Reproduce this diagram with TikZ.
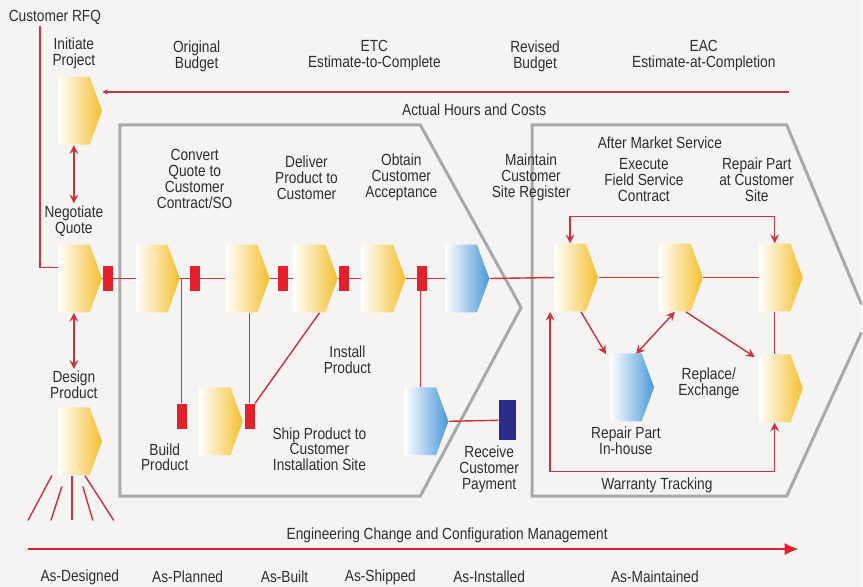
\documentclass[tikz,border=0pt]{standalone}
\usepackage{fontspec}
\setmainfont{Liberation Sans}[FakeStretch=0.85]
\usetikzlibrary{calc, arrows.meta, positioning, shapes.symbols}

\definecolor{bgcol}{HTML}{F6F4F2}
\definecolor{flowred}{HTML}{D0303C}
\definecolor{blockred}{HTML}{E3202B}
\definecolor{stageyellow}{HTML}{F4BF2E}
\definecolor{stageblue}{HTML}{4A98DA}
\definecolor{framegray}{HTML}{A9A9A9}
\definecolor{paynavy}{HTML}{2A2E88}
\definecolor{txtgray}{HTML}{2E2E2E}

\pgfdeclarelayer{bg}
\pgfdeclarelayer{lines}
\pgfsetlayers{bg,lines,main}

\begin{document}
\begin{tikzpicture}[x=0.02cm, y=-0.02cm, font=\fontsize{9.2}{9.1}\selectfont,
    every node/.style={text=txtgray}, >={Stealth[length=5pt,width=5pt,inset=1.8pt]}]

\tikzstyle{stage}=[shape=signal, signal to=east, signal pointer angle=140, minimum width=0.88cm, minimum height=1.36cm, inner sep=0pt, left color=white, right color=stageyellow]
\tikzstyle{blue stage}=[stage, left color=white, right color=stageblue]
\tikzstyle{gate}=[fill=blockred, minimum width=0.2cm, minimum height=0.5cm, inner sep=0pt]
\tikzstyle{flow}=[draw=flowred, line width=0.8pt]
\tikzstyle{txt}=[align=center, inner sep=1pt]
\tikzstyle{frame}=[draw=framegray, line width=1.7pt, line join=miter]

% background and phase frames
\begin{pgfonlayer}{bg}
\fill[bgcol] (0,0) rectangle (863,588);
\draw[frame] (120,125) -- (421,125) -- (522,308) -- (421,497) -- (120,497) -- cycle;
\draw[frame] (863,305) -- (788,125) -- (533,125) -- (533,497) -- (788,497) -- (863,333);
\end{pgfonlayer}
\useasboundingbox (0,0) rectangle (863,588);

% top row
\node[txt] (lOB) at (197,56) {Original\\Budget};
\node[txt] (lETC) at (375,56) {ETC\\Estimate-to-Complete};
\node[txt] (lRB) at (536,56) {Revised\\Budget};
\node[txt] (lEAC) at (705,56) {EAC\\Estimate-at-Completion};
\node[txt] (lAHC) at (475,110) {Actual Hours and Costs};
\coordinate (cost) at (790,92);

% left column
\node[txt] (rfq) at (55,17) {Customer RFQ};
\node[stage] (IP) at (74,111) {};
\node[txt, above=0.12cm of IP] (lIP) {Initiate\\Project};
\node[stage] (NQ) at (74,279) {};
\node[txt, above=0.12cm of NQ] (lNQ) {Negotiate\\Quote};
\node[stage] (DP) at (74,442) {};
\node[txt, above=0.12cm of DP] (lDP) {Design\\Product};

% order to install
\node[stage] (M1) at (152,279) {};
\node[stage] (M2) at (242,279) {};
\node[stage] (M3) at (310,279) {};
\node[stage] (M4) at (378,279) {};
\node[blue stage] (M5) at (462,279) {};

\node[gate] (g0) at (108,279) {};
\node[gate] (g1) at (195,279) {};
\node[gate] (g2) at (283,279) {};
\node[gate] (g3) at (345,279) {};
\node[gate] (g4) at (423,279) {};

\node[gate] (gB) at (182,417) {};
\node[stage] (SP) at (215,422) {};
\node[gate] (gS) at (250,417) {};
\node[blue stage] (IN) at (421,422) {};
\node[fill=paynavy, minimum width=0.34cm, minimum height=0.8cm, inner sep=0pt] (pay) at (508,421) {};

\node[txt] at (195,179) {Convert\\Quote to\\Customer\\Contract/SO};
\node[txt] at (307,178) {Deliver\\Product to\\Customer};
\node[txt] at (402,178) {Obtain\\Customer\\Acceptance};
\node[txt] at (532,178) {Maintain\\Customer\\Site Register};
\node[txt] at (348,360) {Install\\Product};
\node[txt] at (165,458) {Build\\Product};
\node[txt] at (320,450) {Ship Product to\\Customer\\Installation Site};
\node[txt] at (490,470) {Receive\\Customer\\Payment};

% after market service
\node[txt] at (661,143) {After Market Service};
\node[stage] (MS) at (571,278) {};
\node[stage] (EX) at (676,278) {};
\node[stage] (RS) at (776,278) {};
\node[blue stage] (RI) at (627,388) {};
\node[stage] (RE) at (776,389) {};
\node[txt] at (645,180) {Execute\\Field Service\\Contract};
\node[txt] at (758,180) {Repair Part\\at Customer\\Site};
\node[txt, below=2pt of RI] {Repair Part\\In-house};
\node[txt] at (710,384) {Replace/\\Exchange};
\node[txt] (lWT) at (658,486) {Warranty Tracking};

% connectors
\begin{pgfonlayer}{lines}
\draw[flow] ($(rfq.south)+(-15,0)$) |- ($(NQ.west)+(0,-11)$);
\draw[flow, -{Stealth[length=3pt,width=3pt]}] (cost) -- (cost -| IP.east);
\draw[flow, <->] (IP.south) -- (lNQ.north);
\draw[flow, <->] (NQ.south) -- (lDP.north);
\foreach \sx/\sy/\ex in {-22/0/-46, -12/11/-23, -2/0/-2, 9/11/19, 11/0/40}
    \draw[flow] ($(DP.south)+(\sx,\sy)$) -- ($(DP.south)+(\ex,45)$);

\foreach \a/\b in {NQ/M1, M1/M2, M2/M3, M3/M4, M4/M5, M5/MS, MS/EX, EX/RS}
    \draw[flow] (\a.east) -- (\b.west);

\draw[flow] (gB.north) -- (gB.north |- M1.east);
\draw[flow] (gS.north) -- (gS.north |- M2.south);
\draw[flow] (gS.north east) -- ($(M3.south)+(10,0)$);
\draw[flow] (IN.north) -- (IN.north |- g4.south);
\draw[flow] (IN.east) -- (pay.west);

\draw[flow, <->] (MS.north) -- ++(0,-27) -| (RS.north);
\draw[flow, ->] ($(MS.south)+(11,0)$) -- ($(RI.north)+(-20,1)$);
\draw[flow, <->] (EX.south) -- ($(RI.north)+(10,1)$);
\draw[flow, ->] ($(EX.south)+(11,0)$) -- ($(RE.north)+(-20,3)$);
\draw[flow] (RS.south) -- (RE.north);
\draw[flow, <->] ($(MS.south)+(-20,0)$) -- ++(0,160) -| (RE.south);
\end{pgfonlayer}

% configuration timeline
\node[txt] (lECM) at (448,536) {Engineering Change and Configuration Management};
\coordinate (ecmStart) at (28,550);
\coordinate (ecmEnd) at (800,550);
\draw[draw=blockred, line width=1.4pt, -{Latex[length=8pt,width=7pt]}] (ecmStart) -- (ecmEnd);
\foreach \x/\t in {80/As-Designed, 188/As-Planned, 285/As-Built, 381/As-Shipped, 490/As-Installed, 656/As-Maintained}
    \node[txt] at (\x,578) {\t};

\end{tikzpicture}
\end{document}
